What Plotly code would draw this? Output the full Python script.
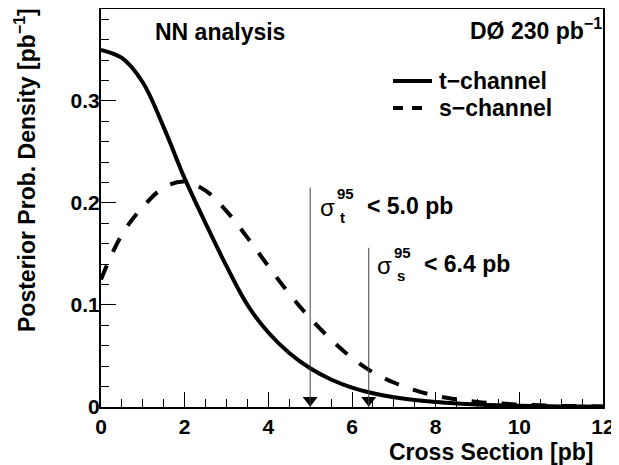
import plotly.graph_objects as go

# ---- data ----
cross_section = [0, 0.5, 1, 1.5, 2, 2.5, 3, 3.5, 4, 4.5, 5, 5.5, 6, 6.5, 7, 7.5,
                 8, 8.5, 9, 9.5, 10, 10.5, 11, 11.5, 12]
t_channel = [0.350, 0.342, 0.318, 0.274, 0.224, 0.180, 0.138, 0.100, 0.073, 0.053,
             0.038, 0.027, 0.019, 0.0135, 0.0095, 0.0068, 0.0048, 0.0034, 0.0024,
             0.0017, 0.0012, 0.0009, 0.0006, 0.0004, 0.0003]
s_channel = [0.125, 0.169, 0.196, 0.215, 0.221, 0.212, 0.192, 0.166, 0.138, 0.111,
             0.087, 0.066, 0.048, 0.034, 0.024, 0.0165, 0.011, 0.0075, 0.005,
             0.0035, 0.0024, 0.0016, 0.0011, 0.0008, 0.0005]
limit_values = [5.0, 6.4]          # 95% CL upper limits (t, s)
limit_subscripts = ["t", "s"]
x_ticks = [0, 2, 4, 6, 8, 10, 12]
y_ticks = [0, 0.1, 0.2, 0.3]
y_tick_text = ["0", "0.1", "0.2", "0.3"]

FONT = "Liberation Sans"
OFF = 8                      # page body margin
W, H = 619 - OFF, 465 - OFF
# plot area in page pixels: x 101..603, y 9..407
ML, MR, MT, MB = 101 - OFF, W - (603 - OFF), 9 - OFF, H - (407 - OFF)
PW, PH = W - ML - MR, H - MT - MB


def px(xp):
    """page x pixel -> paper coordinate"""
    return (xp - OFF - ML) / PW


def py(yp):
    """page y pixel -> paper coordinate"""
    return (H - MB - (yp - OFF)) / PH


fig = go.Figure()
fig.add_trace(go.Scatter(x=cross_section, y=t_channel, mode="lines",
                         line=dict(color="black", width=4, shape="spline"),
                         showlegend=False, hoverinfo="skip"))
fig.add_trace(go.Scatter(x=cross_section, y=s_channel, mode="lines",
                         line=dict(color="black", width=4, shape="spline", dash="15px,15px"),
                         showlegend=False, hoverinfo="skip"))

# limit lines with arrowheads
line_tops = [0.215, 0.156]
for v, top in zip(limit_values, line_tops):
    fig.add_shape(type="line", x0=v, x1=v, y0=0, y1=top, xref="x", yref="y",
                  line=dict(color="#444444", width=1))
fig.add_trace(go.Scatter(x=limit_values, y=[0.0065, 0.0065], mode="markers",
                         marker=dict(symbol="triangle-down", size=13, color="black"),
                         cliponaxis=False, showlegend=False, hoverinfo="skip"))

ann = []
tf = dict(family=FONT, size=23, color="black", weight="bold")
# sigma labels
sig_pos = [(318, 207), (375, 265)]
for (sx, sy), v, sub in zip(sig_pos, limit_values, limit_subscripts):
    ann.append(dict(x=px(sx), y=py(sy), xref="paper", yref="paper", text="σ",
                    showarrow=False, xanchor="left", yanchor="middle",
                    font=dict(family=FONT, size=24, color="black", weight="normal")))
    ann.append(dict(x=px(sx + 17), y=py(sy - 13), xref="paper", yref="paper", text="95",
                    showarrow=False, xanchor="left", yanchor="middle",
                    font=dict(family=FONT, size=15, color="black", weight="bold")))
    ann.append(dict(x=px(sx + 20), y=py(sy + 10), xref="paper", yref="paper", text=sub,
                    showarrow=False, xanchor="left", yanchor="middle",
                    font=dict(family=FONT, size=15, color="black", weight="bold")))
    ann.append(dict(x=px(sx + 47), y=py(sy - 1), xref="paper", yref="paper",
                    text=f"< {v:.1f} pb", showarrow=False, xanchor="left", yanchor="middle",
                    font=tf))

ann.append(dict(x=px(153), y=py(32), xref="paper", yref="paper", text="NN analysis",
                showarrow=False, xanchor="left", yanchor="middle", font=tf))
ann.append(dict(x=px(604), y=py(29), xref="paper", yref="paper",
                text="DØ 230 pb<sup>−1</sup>", showarrow=False, xanchor="right",
                yanchor="middle", font=tf))
# legend (manual)
ann.append(dict(x=px(437), y=py(81), xref="paper", yref="paper", text="t−channel",
                showarrow=False, xanchor="left", yanchor="middle", font=tf))
ann.append(dict(x=px(437), y=py(108), xref="paper", yref="paper", text="s−channel",
                showarrow=False, xanchor="left", yanchor="middle", font=tf))
fig.add_shape(type="line", xref="paper", yref="paper", x0=px(393), x1=px(432),
              y0=py(81), y1=py(81), line=dict(color="black", width=4))
fig.add_shape(type="line", xref="paper", yref="paper", x0=px(393), x1=px(422),
              y0=py(108), y1=py(108), line=dict(color="black", width=4, dash="10px,9px"))

# axis titles
ann.append(dict(x=px(595), y=py(452), xref="paper", yref="paper",
                text="Cross Section [pb]", showarrow=False, xanchor="right",
                yanchor="middle", font=tf))
ann.append(dict(x=px(25), y=py(6), xref="paper", yref="paper",
                text="Posterior Prob. Density [pb<sup>−1</sup>]", showarrow=False,
                textangle=-90, xanchor="center", yanchor="top", font=tf))

fig.update_layout(
    width=W, height=H,
    margin=dict(l=ML, r=MR, t=MT, b=MB, pad=0, autoexpand=False),
    paper_bgcolor="white", plot_bgcolor="white",
    font=dict(family=FONT, size=21, color="black", weight="bold"),
    annotations=ann,
    showlegend=False,
)
fig.update_xaxes(range=[0, 12], tickvals=x_ticks, ticktext=[str(t) for t in x_ticks],
                 ticks="inside", ticklen=15, tickwidth=1, tickcolor="black",
                 minor=dict(ticks="inside", ticklen=8, dtick=0.5, tickwidth=1, tickcolor="black"),
                 showline=True, linecolor="black", linewidth=2, mirror=True,
                 showgrid=False, zeroline=False, automargin=False,
                 ticklabelstandoff=0, ticklabeloverflow="allow",
                 tickfont=dict(family=FONT, size=21, weight="bold"))
fig.update_yaxes(range=[0, 0.39], tickvals=y_ticks, ticktext=y_tick_text,
                 ticks="inside", ticklen=15, tickwidth=1, tickcolor="black",
                 minor=dict(ticks="inside", ticklen=8, dtick=0.02, tickwidth=1, tickcolor="black"),
                 showline=True, linecolor="black", linewidth=2, mirror=True,
                 showgrid=False, zeroline=False, automargin=False,
                 ticklabelstandoff=-5, ticklabeloverflow="allow",
                 tickfont=dict(family=FONT, size=21, weight="bold"))

fig.write_html(
    "out.html",
    post_script="document.documentElement.style.overflow='hidden';"
                "document.body.style.overflow='hidden';",
)
